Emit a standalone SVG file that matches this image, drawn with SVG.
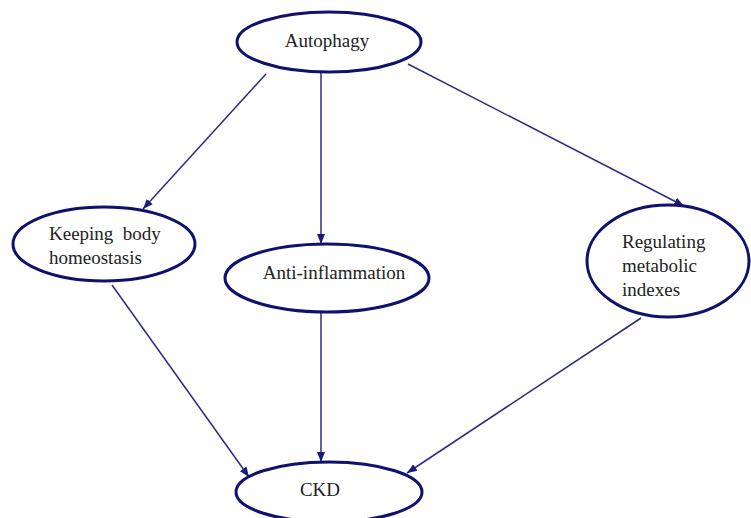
<svg xmlns="http://www.w3.org/2000/svg" width="751" height="518" viewBox="0 0 751 518">
<style>
.node ellipse{fill:#fff;stroke:#10106e;stroke-width:3}
.node text{font-family:'Liberation Serif','Times New Roman',Times,serif;font-size:19px;fill:#222}
.conn line{stroke:#2c2c86;stroke-width:1.5;fill:none}
</style>
<defs>
<marker id="ah" viewBox="0 0 10 10" refX="10" refY="5" markerWidth="10" markerHeight="10" markerUnits="userSpaceOnUse" orient="auto">
<path d="M0,1 L10,5 L0,9 Z" fill="#1a1a78"/>
</marker>
</defs>
<rect width="751" height="518" fill="#fff"/>
<g class="conn">
<line x1="266" y1="74" x2="143" y2="209" marker-end="url(#ah)"/>
<line x1="321" y1="73" x2="321" y2="244" marker-end="url(#ah)"/>
<line x1="408" y1="64" x2="684" y2="206" marker-end="url(#ah)"/>
<line x1="112" y1="285" x2="249" y2="477" marker-end="url(#ah)"/>
<line x1="321" y1="312" x2="321" y2="462" marker-end="url(#ah)"/>
<line x1="641" y1="318" x2="407" y2="473" marker-end="url(#ah)"/>
</g>
<g id="autophagy" class="node">
<ellipse cx="329" cy="42" rx="92" ry="30"/>
<text x="327" y="47" text-anchor="middle">Autophagy</text>
</g>
<g id="keeping" class="node">
<ellipse cx="104" cy="244" rx="91" ry="37"/>
<text x="49" y="240" xml:space="preserve">Keeping  body</text>
<text x="49" y="264">homeostasis</text>
</g>
<g id="anti" class="node">
<ellipse cx="327" cy="278" rx="102" ry="34"/>
<text x="334" y="279" text-anchor="middle">Anti-inflammation</text>
</g>
<g id="regulating" class="node">
<ellipse cx="668" cy="261" rx="81" ry="56"/>
<text x="622" y="248">Regulating</text>
<text x="622" y="272">metabolic</text>
<text x="622" y="296">indexes</text>
</g>
<g id="ckd" class="node">
<ellipse cx="329" cy="492" rx="93" ry="30"/>
<text x="320" y="496" text-anchor="middle">CKD</text>
</g>
</svg>
